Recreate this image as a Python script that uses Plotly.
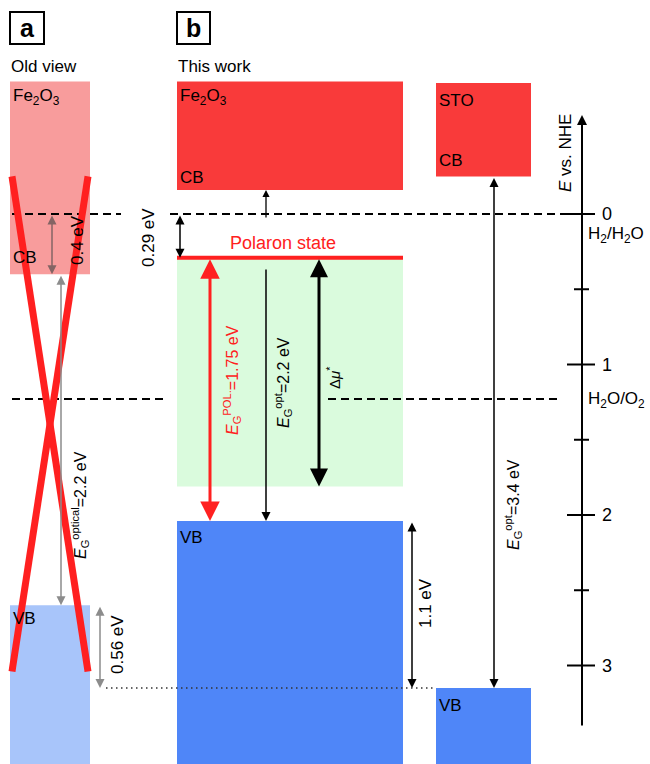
import plotly.graph_objects as go

# ---- energy data (eV vs NHE, downward positive) ----
h2_level = 0.0
o2_level = 1.23
old_cb = 0.4
old_vb = 2.6
old_top = -0.88
new_cb = -0.16
new_top = -0.88
polaron = 0.29
green_bottom = 1.81
new_vb = 2.04
sto_top = -0.87
sto_cb = -0.25
sto_vb = 3.15
dotted_level = 3.15
major_ticks = [0, 1, 2, 3]
minor_ticks = [0.5, 1.5, 2.5]
tick_labels = ["0", "1", "2", "3"]
x_cross = [-0.25, 3.04]

# ---- layout helpers (pixel geometry) ----
PX_PER_EV = 150.5
ZERO_PX = 214.0
W, H = 650, 764
def Y(px):
    return (px - ZERO_PX) / PX_PER_EV

FONT = "Liberation Sans, Arial, sans-serif"
BOTTOM = Y(H + 5)
FS = 17

fig = go.Figure()
fig.add_trace(go.Scatter(x=[0, W], y=[0, 0], mode="markers",
                         marker=dict(opacity=0), hoverinfo="skip", showlegend=False))

shapes = []
def rect(x0, x1, e0, e1, color):
    shapes.append(dict(type="rect", xref="x", yref="y", x0=x0, x1=x1, y0=e0, y1=e1,
                       fillcolor=color, line=dict(width=0), layer="below"))
def line(x0, x1, e0, e1, color="black", width=2, dash="solid", layer="above"):
    shapes.append(dict(type="line", xref="x", yref="y", x0=x0, x1=x1, y0=e0, y1=e1,
                       line=dict(color=color, width=width, dash=dash), layer=layer))

# panel a boxes
rect(10, 90, old_top, old_cb, "#F89C9C")
rect(10, 90, old_vb, BOTTOM, "#A8C5FA")
# panel b boxes
rect(177, 403, new_top, new_cb, "#F93A3A")
rect(177, 403, polaron, green_bottom, "#DAFBDD")
rect(177, 403, new_vb, BOTTOM, "#4F86F8")
# STO
rect(436, 531, sto_top, sto_cb, "#F93A3A")
rect(436, 531, sto_vb, BOTTOM, "#4F86F8")

# polaron line
line(177, 403, polaron, polaron, color="#FF2020", width=4)
# dashed redox levels
line(12, 121, h2_level, h2_level, dash="8px,5px", width=2)
line(170, 568, h2_level, h2_level, dash="8px,5px", width=2)
line(12, 164, o2_level, o2_level, dash="8px,5px", width=2)
line(328, 558, o2_level, o2_level, dash="8px,5px", width=2)
# dotted line
line(106, 436, dotted_level, dotted_level, dash="1.5px,3.5px", width=1.5, color="#333333")
# red cross
line(12, 88, x_cross[0], x_cross[1], color="#FF2020", width=7)
line(88, 12, x_cross[0], x_cross[1], color="#FF2020", width=7)
# axis ticks
for t in major_ticks:
    line(567, 595, t, t, width=2)
for t in minor_ticks:
    line(574, 589, t, t, width=2)
# panel label boxes
shapes.append(dict(type="rect", xref="x", yref="y", x0=10, x1=44, y0=Y(12), y1=Y(44),
                   line=dict(color="black", width=2), fillcolor="white"))
shapes.append(dict(type="rect", xref="x", yref="y", x0=177, x1=210, y0=Y(12), y1=Y(44),
                   line=dict(color="black", width=2), fillcolor="white"))

annotations = []
def arrow(x, e_tail, e_head, color="black", width=1.5, both=False, size=1.0, head=2):
    a = dict(x=x, y=e_head, ax=x, ay=e_tail, xref="x", yref="y", axref="x", ayref="y",
             text="", showarrow=True, arrowhead=head, arrowsize=size, arrowwidth=width,
             arrowcolor=color, standoff=0, startstandoff=0)
    if both:
        a.update(arrowside="end+start", startarrowhead=head, startarrowsize=size)
    annotations.append(a)

def label(x, px, text, size=FS, color="black", angle=0, xanchor="left", yanchor="middle"):
    annotations.append(dict(x=x, y=Y(px), xref="x", yref="y", text=text, showarrow=False,
                            font=dict(family=FONT, size=size, color=color), textangle=angle,
                            xanchor=xanchor, yanchor=yanchor))

# panel a arrows
arrow(52, h2_level, old_cb, color="#846464", width=1.5, both=True, size=1.2)
arrow(61, old_cb, old_vb, color="#8C8C8C", width=1.5, both=True, size=1.2)
arrow(100, old_vb, dotted_level, color="#8C8C8C", width=1.5, both=True, size=1.2)
# panel b arrows
arrow(266, Y(219), new_cb, width=1.3, size=1.1)
arrow(180, h2_level, polaron, width=1.5, both=True, size=1.2)
arrow(210, polaron, new_vb, color="#FF2020", width=3, both=True, size=1.3)
arrow(266, Y(268), new_vb, width=1.5, size=1.2)
arrow(319, polaron, green_bottom, width=3, both=True, size=1.2)
arrow(412, new_vb, dotted_level, width=1.5, both=True, size=1.2)
arrow(494, sto_cb, sto_vb, width=1.5, both=True, size=1.2)
# energy axis
arrow(582, Y(727), Y(115), width=2, size=1.0)

# labels
label(27, 28, "<b>a</b>", size=25, xanchor="center")
label(193.5, 28, "<b>b</b>", size=25, xanchor="center")
label(9, 66, "Old view")
label(176, 66, "This work")
label(11, 97, "Fe<sub>2</sub>O<sub>3</sub>")
label(178, 97, "Fe<sub>2</sub>O<sub>3</sub>")
label(11, 257, "CB")
label(178, 177, "CB")
label(437, 100, "STO")
label(437, 160, "CB")
label(11, 618, "VB")
label(178, 537, "VB")
label(437, 705, "VB")
label(77, 240, "0.4 eV", angle=-90, xanchor="center")
label(148, 238, "0.29 eV", angle=-90, xanchor="center")
label(80, 505, "<i>E</i><sub>G</sub><sup>optical</sup>=2.2 eV", size=16, angle=-90, xanchor="center")
label(117, 645, "0.56 eV", angle=-90, xanchor="center")
label(283, 243, "Polaron state", size=18, color="#FF2020", xanchor="center")
label(232, 380, "<i>E</i><sub>G</sub><sup>POL.</sup>=1.75 eV", size=16, color="#FF2020", angle=-90, xanchor="center")
label(283, 383, "<i>E</i><sub>G</sub><sup>opt</sup>=2.2 eV", size=16, angle=-90, xanchor="center")
label(333, 378, "Δ<i>μ</i><sup>*</sup>", size=15, angle=-90, xanchor="center")
label(425, 603, "1.1 eV", angle=-90, xanchor="center")
label(513, 505, "<i>E</i><sub>G</sub><sup>opt</sup>=3.4 eV", size=16, angle=-90, xanchor="center")
label(565, 153, "<i>E</i> vs. NHE", angle=-90, xanchor="center")
for t, s in zip(major_ticks, tick_labels):
    label(600, ZERO_PX + t * PX_PER_EV, s, size=18)
label(586, 235, "H<sub>2</sub>/H<sub>2</sub>O")
label(586, 400, "H<sub>2</sub>O/O<sub>2</sub>")

fig.update_layout(
    width=W, height=H, margin=dict(l=0, r=0, t=0, b=0),
    paper_bgcolor="white", plot_bgcolor="white",
    xaxis=dict(range=[0, W], visible=False, fixedrange=True),
    yaxis=dict(range=[Y(H), Y(0)], visible=False, fixedrange=True),
    shapes=shapes, annotations=annotations, showlegend=False,
    font=dict(family=FONT),
)
fig.write_html("out.html")
